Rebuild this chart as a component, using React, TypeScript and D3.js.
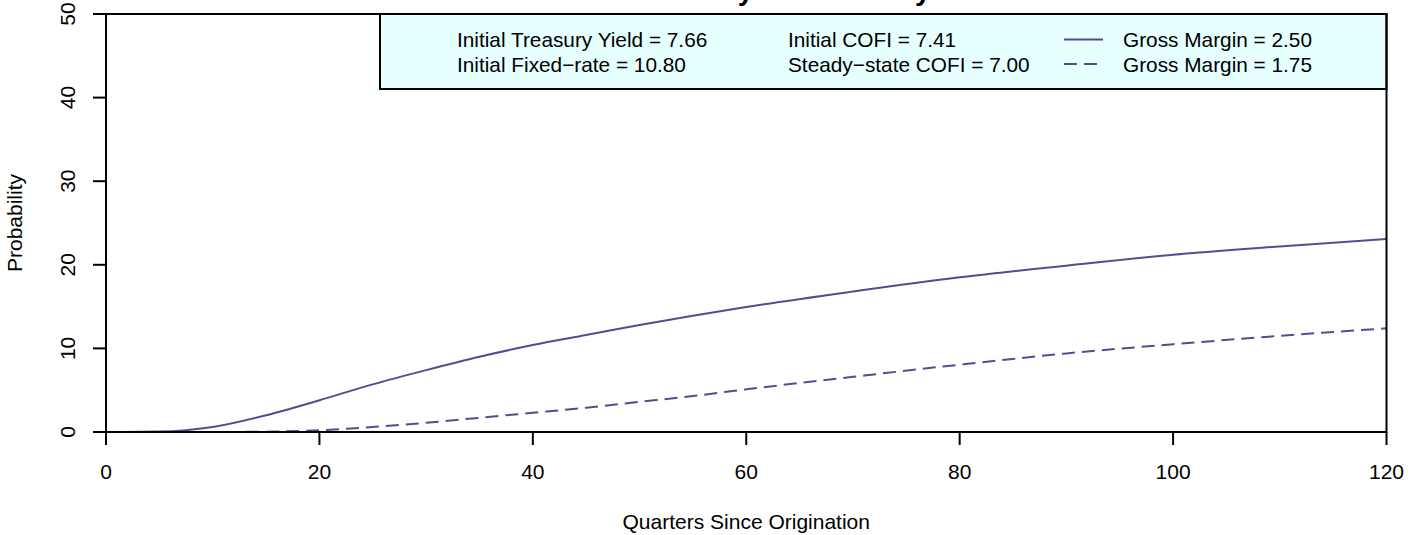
import React from "react";
import * as d3 from "d3";

// quarters since origination where the curves were read
const quarters = [0, 5, 10, 15, 20, 25, 30, 35, 40, 45, 50, 55, 60, 70, 80, 90, 100, 110, 120];
// gross margin 2.50 (solid)
const margin250 = [0, 0.05, 0.6, 2.0, 3.8, 5.7, 7.4, 9.0, 10.4, 11.6, 12.8, 13.9, 14.95, 16.8, 18.5, 19.9, 21.2, 22.2, 23.1];
// gross margin 1.75 (dashed)
const margin175 = [0, 0, 0, 0.04, 0.2, 0.6, 1.1, 1.7, 2.3, 2.9, 3.6, 4.3, 5.1, 6.6, 8.05, 9.4, 10.5, 11.5, 12.4];

const xTicks = [0, 20, 40, 60, 80, 100, 120];
const yTicks = [0, 10, 20, 30, 40, 50];

const legendCol1 = ["Initial Treasury Yield = 7.66", "Initial Fixed\u2212rate = 10.80"];
const legendCol2 = ["Initial COFI = 7.41", "Steady\u2212state COFI = 7.00"];
const legendCol3 = ["Gross Margin = 2.50", "Gross Margin = 1.75"];
const legendDash = ["none", "13,7"];

const W = 1421;
const H = 535;
const FONT = "'Liberation Sans', Arial, Helvetica, sans-serif";
const LINE = "#584a92";

const App: React.FC = () => {
  const x = d3.scaleLinear().domain([0, 120]).range([106, 1386.5]);
  const y = d3.scaleLinear().domain([0, 50]).range([432, 14]);

  const line = d3
    .line<[number, number]>()
    .x(d => x(d[0]))
    .y(d => y(d[1]))
    .curve(d3.curveMonotoneX);

  const solid = quarters.map((q, i) => [q, margin250[i]] as [number, number]);
  const dashed = quarters.map((q, i) => [q, margin175[i]] as [number, number]);

  const [x0, x1] = x.range();
  const [y0, y1] = y.range();
  const legLeft = 380;
  const legBottom = 89;

  return (
    <svg
      width={W}
      height={H}
      style={{ position: "absolute", left: 0, top: 0, background: "#fff", overflow: "hidden" }}
      fontFamily={FONT}
    >
      {/* title, mostly above the page */}
      <text x={(x0 + x1) / 2} y={-0.5} textAnchor="middle" fontSize={28} fontWeight="bold" fill="#000">
        Cumulative Probability of Default by Horizon
      </text>

      {/* curves */}
      <path d={line(solid) || ""} fill="none" stroke={LINE} strokeWidth={2} />
      <path d={line(dashed) || ""} fill="none" stroke={LINE} strokeWidth={2} strokeDasharray="13,7" />

      {/* legend */}
      <rect x={legLeft} y={y1} width={x1 - legLeft} height={legBottom - y1} fill="#e6ffff" stroke="#000" strokeWidth={2} />
      {[0, 1].map(i => (
        <g key={i} fontSize={20.8} fill="#000">
          <text x={457} y={47 + i * 24.5}>{legendCol1[i]}</text>
          <text x={788} y={47 + i * 24.5}>{legendCol2[i]}</text>
          <line
            x1={1064}
            x2={1103}
            y1={39.5 + i * 24.5}
            y2={39.5 + i * 24.5}
            stroke={LINE}
            strokeWidth={2}
            strokeDasharray={legendDash[i]}
          />
          <text x={1123} y={47 + i * 24.5}>{legendCol3[i]}</text>
        </g>
      ))}

      {/* box */}
      <rect x={x0} y={y1} width={x1 - x0} height={y0 - y1} fill="none" stroke="#000" strokeWidth={2} />

      {/* x axis */}
      {xTicks.map(t => (
        <g key={t}>
          <line x1={x(t)} x2={x(t)} y1={y0} y2={y0 + 13} stroke="#000" strokeWidth={2} />
          <text x={x(t)} y={479} textAnchor="middle" fontSize={21} fill="#000">{t}</text>
        </g>
      ))}
      <text x={(x0 + x1) / 2} y={528.5} textAnchor="middle" fontSize={21} fill="#000">
        Quarters Since Origination
      </text>

      {/* y axis */}
      {yTicks.map(t => (
        <g key={t}>
          <line x1={x0 - 13} x2={x0} y1={y(t)} y2={y(t)} stroke="#000" strokeWidth={2} />
          <text transform={`translate(75,${y(t)}) rotate(-90)`} textAnchor="middle" fontSize={21} fill="#000">
            {t}
          </text>
        </g>
      ))}
      <text transform={`translate(22,${(y0 + y1) / 2}) rotate(-90)`} textAnchor="middle" fontSize={21} fill="#000">
        Probability
      </text>
    </svg>
  );
};

export default App;
